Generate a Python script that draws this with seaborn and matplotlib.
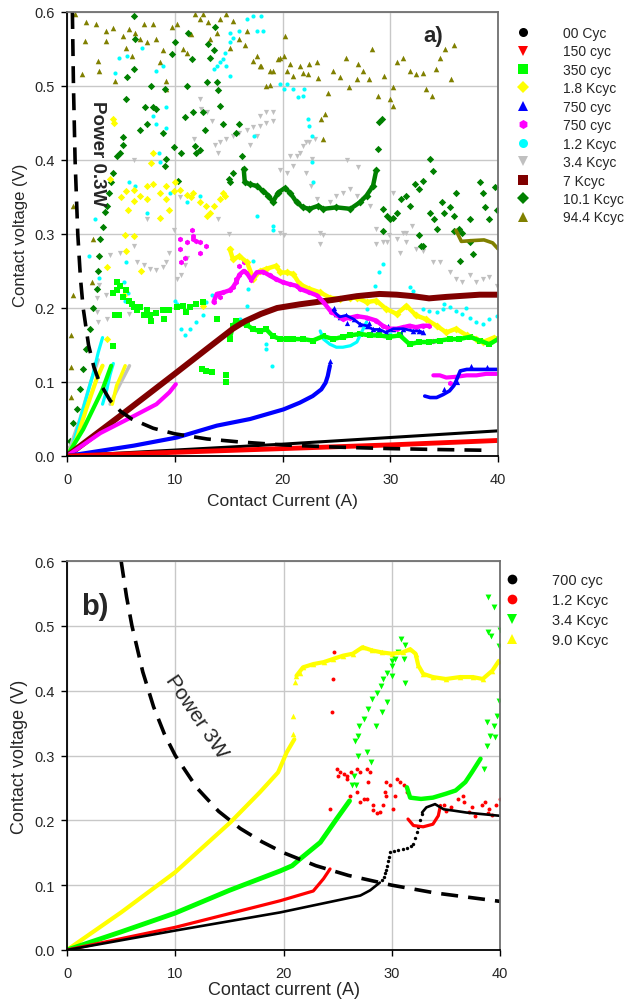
import matplotlib
matplotlib.use("Agg")
import matplotlib.pyplot as plt
import seaborn as sns
import pandas as pd
from matplotlib.lines import Line2D

# ---------------- DATA: panel a) ----------------
X_TICKS = [0, 10, 20, 30, 40]
Y_TICKS = [0.0, 0.1, 0.2, 0.3, 0.4, 0.5, 0.6]
Y_TICK_LABELS = ["0.0", "0.1", "0.2", "0.3", "0.4", "0.5", "0.6"]

A_LABELS = ["00 Cyc", "150 cyc", "350 cyc", "1.8 Kcyc", "750 cyc", "750 cyc",
            "1.2 Kcyc", "3.4 Kcyc", "7 Kcyc", "10.1 Kcyc", "94.4 Kcyc"]

A_BLACK_LINE = [(0, 0), (10, 0.008), (20, 0.016), (30, 0.025), (40, 0.034)]
A_RED_LINE = [(0, 0), (10, 0.005), (20, 0.010), (30, 0.015), (40, 0.021)]
A_BROWN_LINE = [(0, 0), (5, 0.055), (10, 0.111), (13, 0.145), (15.4, 0.172), (16.5, 0.182),
                (18, 0.192), (19.5, 0.2), (21.6, 0.205), (24.7, 0.211), (26.9, 0.216),
                (29, 0.219), (30.6, 0.218), (32.1, 0.216), (33.6, 0.213), (35.2, 0.215),
                (38.3, 0.218), (40, 0.218)]

A_BLUE_CURVE = [(0, 0), (6.2, 0.014), (10.2, 0.025), (13.9, 0.041), (17.0, 0.05), (20.1, 0.063),
                (21.6, 0.072), (22.8, 0.081), (23.6, 0.09), (24.0, 0.099), (24.2, 0.108), (24.4, 0.122)]
A_BLUE_UPPER = [(24.7, 0.197), (25.0, 0.192), (25.3, 0.188), (25.9, 0.19), (26.6, 0.185), (27.2, 0.178),
                (27.8, 0.176), (28.4, 0.171), (29.0, 0.171), (29.6, 0.167), (30.3, 0.172), (31.2, 0.172),
                (32.1, 0.169), (32.7, 0.169), (33.0, 0.167)]
A_BLUE_LOWER = [(33.2, 0.081), (33.7, 0.079), (34.3, 0.079), (34.9, 0.083), (35.5, 0.088), (35.9, 0.095),
                (36.1, 0.101), (36.5, 0.115), (37.1, 0.117), (38.0, 0.117), (38.9, 0.117), (39.9, 0.117)]
A_BLUE_PTS = [(24.4, 0.128), (24.8, 0.2), (26.0, 0.18), (28.0, 0.18), (29.8, 0.176), (31.0, 0.165),
              (36.2, 0.1), (35.0, 0.09), (37.5, 0.121), (39.0, 0.12)]

A_MAG_CURVE = [(0, 0), (3.1, 0.031), (6.2, 0.054), (8.3, 0.07), (9.5, 0.086), (10.1, 0.097)]
A_MAG_PTS = [(10.5, 0.293), (11.1, 0.289), (11.7, 0.293), (12.3, 0.289), (12.9, 0.284), (12.3, 0.275),
             (10.95, 0.267), (10.6, 0.262), (11.6, 0.306), (11.7, 0.297), (12.0, 0.29), (10.5, 0.28),
             (15.7, 0.239), (16.0, 0.257), (16.4, 0.262), (14.2, 0.215), (34.0, 0.156), (35.5, 0.099)]
A_MAG_BAND = [(13.6, 0.208), (13.9, 0.219), (14.5, 0.221), (15.1, 0.224), (15.4, 0.228), (15.7, 0.235),
              (16.0, 0.245), (16.4, 0.25), (16.7, 0.247), (17.1, 0.238), (17.6, 0.248), (18.2, 0.249),
              (18.8, 0.244), (19.4, 0.239), (20.0, 0.235), (20.7, 0.232), (21.3, 0.23), (21.6, 0.226),
              (22.5, 0.221), (23.2, 0.217), (23.8, 0.208), (24.5, 0.195), (25.6, 0.185), (26.3, 0.187),
              (26.9, 0.189), (27.8, 0.187), (28.7, 0.183), (29.3, 0.176), (29.9, 0.172), (30.6, 0.172),
              (31.2, 0.174), (31.8, 0.176), (32.4, 0.174), (33.0, 0.176), (33.6, 0.176)]
A_MAG_LOWER = [(34.0, 0.109), (34.6, 0.109), (35.2, 0.106), (36.1, 0.107), (37.1, 0.109),
               (38.0, 0.109), (38.9, 0.111), (39.9, 0.111)]

A_GREEN_CURVE = [(0, 0), (1.5, 0.036), (2.4, 0.063), (3.3, 0.09), (4.1, 0.122)]
A_GREEN_PTS = [(4.3, 0.149), (4.5, 0.19), (4.3, 0.22), (4.6, 0.225), (4.9, 0.23), (4.6, 0.235),
               (5.5, 0.224), (5.8, 0.21), (6.2, 0.201), (6.5, 0.197), (6.8, 0.201), (7.4, 0.197),
               (7.7, 0.19), (8.3, 0.193), (8.9, 0.197), (9.5, 0.197), (10.2, 0.201), (10.8, 0.203),
               (11.4, 0.201), (12.0, 0.205), (12.6, 0.208), (7.8, 0.182), (7.1, 0.19), (4.8, 0.19),
               (12.5, 0.118), (12.9, 0.115), (13.5, 0.113), (14.8, 0.109), (14.8, 0.1), (13.9, 0.185),
               (5.2, 0.215), (9.0, 0.185), (11.0, 0.195), (6.0, 0.205)]
A_GREEN_BAND = [(15.1, 0.158), (15.4, 0.176), (15.7, 0.182), (16.0, 0.18), (16.7, 0.177), (17.3, 0.171),
                (17.9, 0.169), (18.5, 0.171), (19.1, 0.162), (19.8, 0.158), (20.4, 0.158), (21.0, 0.158),
                (21.9, 0.158), (22.8, 0.156), (23.8, 0.162), (24.7, 0.158), (25.6, 0.161), (26.3, 0.163),
                (27.2, 0.165), (28.1, 0.163), (29.0, 0.163), (29.9, 0.161), (30.9, 0.163), (31.8, 0.151),
                (32.7, 0.154), (33.6, 0.154), (34.6, 0.156), (35.5, 0.158), (36.4, 0.158), (37.4, 0.161),
                (38.3, 0.156), (39.2, 0.151), (40.0, 0.158)]

A_YEL_CURVE = [(0, 0), (0.9, 0.023), (1.8, 0.064), (2.75, 0.104), (3.3, 0.122)]
A_YEL_CURVE2 = [(4.2, 0.07), (4.6, 0.095), (5.0, 0.108), (5.4, 0.122)]
A_YEL_PTS = [(5.4, 0.298), (5.5, 0.277), (3.7, 0.255), (3.7, 0.158), (5.3, 0.218), (6.9, 0.25),
             (12.6, 0.203), (4.3, 0.455), (4.4, 0.45), (8.0, 0.41), (7.8, 0.396), (4.0, 0.374),
             (5.5, 0.358), (6.2, 0.36), (6.8, 0.351), (7.4, 0.365), (8.0, 0.367), (8.6, 0.356),
             (9.2, 0.365), (9.9, 0.358), (10.5, 0.36), (11.1, 0.353), (11.7, 0.356), (12.3, 0.343),
             (12.9, 0.338), (13.3, 0.329), (13.6, 0.338), (14.2, 0.347), (14.7, 0.351), (6.2, 0.345),
             (7.4, 0.347), (9.2, 0.347), (9.5, 0.333), (5.7, 0.333), (8.6, 0.322), (6.2, 0.297),
             (11.5, 0.35), (5.0, 0.35), (10.0, 0.37), (13.0, 0.325), (14.5, 0.355)]
A_YEL_BAND = [(15.1, 0.28), (15.4, 0.266), (16.0, 0.27), (16.7, 0.262), (17.3, 0.239), (17.9, 0.25),
              (18.5, 0.253), (19.4, 0.257), (19.8, 0.248), (20.4, 0.248), (21.0, 0.246), (21.6, 0.232),
              (22.5, 0.226), (23.5, 0.221), (24.4, 0.214), (25.3, 0.212), (26.3, 0.214), (26.9, 0.214),
              (27.8, 0.208), (28.7, 0.21), (29.6, 0.199), (30.6, 0.192), (31.5, 0.203), (32.4, 0.19),
              (33.3, 0.185), (34.3, 0.176), (35.2, 0.167), (36.1, 0.172), (37.1, 0.163), (38.0, 0.158),
              (38.6, 0.154), (39.6, 0.16), (40.0, 0.158)]

A_CYAN_CURVE = [(0, 0), (0.6, 0.018), (1.5, 0.064), (2.4, 0.11), (2.9, 0.14), (3.3, 0.16)]
A_CYAN_CURVE2 = [(3.3, 0.07), (3.7, 0.09), (4.0, 0.11), (4.3, 0.125)]
A_CYAN_U = [(23.5, 0.169), (23.8, 0.158), (24.4, 0.151), (25.0, 0.147), (25.6, 0.147), (26.3, 0.149),
            (26.9, 0.154), (27.2, 0.163), (27.8, 0.181)]
A_CYAN_PTS = [(5.5, 0.262), (5.3, 0.235), (5.4, 0.21), (5.7, 0.22), (10.0, 0.21), (10.2, 0.205),
              (10.6, 0.172), (10.95, 0.163), (11.4, 0.172), (12.0, 0.181), (12.6, 0.19), (12.9, 0.208),
              (13.5, 0.217), (16.7, 0.203), (16.8, 0.226), (16.1, 0.185), (18.5, 0.151), (18.5, 0.145),
              (19.1, 0.311), (4.5, 0.518), (4.8, 0.538), (5.6, 0.54), (7.0, 0.552), (8.3, 0.52),
              (8.9, 0.527), (9.2, 0.471), (9.2, 0.443), (8.3, 0.449), (8.0, 0.46), (8.5, 0.41),
              (8.6, 0.397), (5.8, 0.37), (6.3, 0.365), (2.6, 0.32), (7.4, 0.329), (9.6, 0.356),
              (11.1, 0.343), (12.3, 0.352), (13.6, 0.523), (13.9, 0.527), (14.2, 0.532), (14.5, 0.536),
              (14.7, 0.545), (15.1, 0.572), (15.1, 0.559), (15.4, 0.565), (16.0, 0.575), (16.7, 0.59),
              (17.3, 0.595), (17.6, 0.575), (15.1, 0.514), (14.8, 0.527), (17.4, 0.432), (17.6, 0.324),
              (19.1, 0.306), (18.2, 0.575), (18.0, 0.595), (19.8, 0.503), (20.1, 0.496), (21.0, 0.496),
              (21.4, 0.485), (21.9, 0.487), (22.0, 0.496), (22.4, 0.455), (22.5, 0.446), (22.7, 0.432),
              (22.8, 0.37), (22.7, 0.397), (20.4, 0.503), (27.8, 0.199), (28.1, 0.217), (28.6, 0.23),
              (29.0, 0.248), (29.3, 0.259), (31.8, 0.228), (32.1, 0.223), (33.0, 0.199), (33.6, 0.196),
              (34.3, 0.194), (34.9, 0.199), (35.5, 0.201), (36.1, 0.196), (36.7, 0.192), (37.4, 0.187),
              (38.0, 0.181), (38.6, 0.178), (39.2, 0.185), (39.9, 0.189), (30.0, 0.165), (17.3, 0.264),
              (19.0, 0.122), (2.0, 0.27), (3.0, 0.24), (35.0, 0.205), (37.0, 0.2)]

A_GRAY_CURVE = [(0, 0), (1.2, 0.05), (2.2, 0.1), (2.9, 0.13)]
A_GRAY_CURVE2 = [(4.0, 0.07), (4.6, 0.088), (5.2, 0.105), (5.8, 0.122)]
A_GRAY_PTS = [(2.75, 0.194), (2.9, 0.181), (2.75, 0.213), (3.7, 0.185), (3.6, 0.217), (3.0, 0.231),
              (5.8, 0.192), (4.0, 0.271), (4.9, 0.275), (6.2, 0.284), (6.5, 0.262), (7.1, 0.258),
              (7.7, 0.253), (8.3, 0.251), (8.9, 0.255), (9.2, 0.262), (9.5, 0.275), (10.2, 0.239),
              (10.6, 0.244), (10.95, 0.258), (11.1, 0.267), (12.3, 0.482), (12.4, 0.469), (11.8, 0.428),
              (13.0, 0.465), (13.5, 0.453), (13.7, 0.42), (14.2, 0.424), (14.8, 0.428), (15.4, 0.432),
              (16.0, 0.437), (16.7, 0.441), (17.3, 0.444), (17.9, 0.446), (18.5, 0.45), (19.1, 0.465),
              (14.0, 0.41), (9.9, 0.306), (7.4, 0.32), (6.2, 0.4), (20.7, 0.406), (21.0, 0.392),
              (21.6, 0.41), (22.2, 0.424), (22.7, 0.401), (19.8, 0.302), (14.0, 0.32), (17.9, 0.46),
              (18.5, 0.465), (19.1, 0.453), (17.6, 0.433), (17.0, 0.42), (21.9, 0.419), (22.5, 0.424),
              (23.0, 0.428), (20.4, 0.383), (21.3, 0.405), (22.2, 0.383), (22.6, 0.365), (23.2, 0.347),
              (23.8, 0.334), (24.4, 0.343), (25.0, 0.352), (25.6, 0.356), (26.3, 0.361), (26.9, 0.352),
              (27.5, 0.347), (28.1, 0.338), (28.7, 0.307), (29.7, 0.289), (30.6, 0.293), (31.2, 0.302),
              (32.0, 0.311), (19.8, 0.386), (20.1, 0.298), (23.8, 0.298), (30.3, 0.356), (28.7, 0.286),
              (29.3, 0.289), (29.9, 0.298), (30.9, 0.275), (31.5, 0.289), (32.4, 0.28), (33.0, 0.277),
              (34.0, 0.262), (34.6, 0.262), (35.5, 0.248), (36.1, 0.239), (36.7, 0.235), (37.4, 0.244),
              (38.0, 0.235), (38.6, 0.239), (39.2, 0.242), (39.9, 0.23), (31.5, 0.302), (23.5, 0.286),
              (23.5, 0.302), (10.5, 0.35), (15.0, 0.3), (27.0, 0.39), (26.0, 0.4)]

A_DGREEN_RISE = [(0, 0), (0.3, 0.02), (0.6, 0.045), (0.9, 0.064), (1.2, 0.09), (1.5, 0.118),
                 (1.8, 0.145), (2.1, 0.172), (2.4, 0.2), (2.75, 0.226), (2.9, 0.25), (3.0, 0.27),
                 (3.1, 0.293), (3.3, 0.31), (3.5, 0.33), (3.7, 0.338), (3.9, 0.355), (4.1, 0.37),
                 (4.3, 0.383), (4.6, 0.405), (4.9, 0.41), (5.2, 0.42)]
A_DGREEN_BAND = [(16.4, 0.388), (16.5, 0.37), (17.0, 0.367), (17.6, 0.365), (18.2, 0.358), (18.7, 0.352),
                 (19.1, 0.343), (19.6, 0.356), (20.2, 0.362), (20.7, 0.356), (21.3, 0.343), (21.9, 0.336),
                 (22.5, 0.334), (23.3, 0.338), (23.8, 0.334), (25.0, 0.336), (26.3, 0.334), (27.2, 0.343),
                 (27.8, 0.352), (28.4, 0.365), (28.7, 0.386)]
A_DGREEN_PTS = [(5.5, 0.482), (5.6, 0.512), (5.2, 0.431), (6.2, 0.523), (6.2, 0.595), (6.3, 0.563),
                (7.4, 0.449), (7.2, 0.471), (8.0, 0.471), (8.3, 0.469), (9.1, 0.496), (8.9, 0.437),
                (9.2, 0.401), (9.1, 0.392), (9.9, 0.417), (9.7, 0.543), (10.3, 0.372), (10.6, 0.409),
                (10.95, 0.458), (11.1, 0.5), (11.2, 0.572), (11.6, 0.536), (11.7, 0.465), (11.9, 0.419),
                (12.0, 0.41), (12.3, 0.414), (12.6, 0.465), (13.0, 0.505), (13.1, 0.557), (13.3, 0.538),
                (13.6, 0.548), (13.7, 0.58), (13.9, 0.505), (14.0, 0.494), (14.2, 0.473), (14.5, 0.449),
                (15.0, 0.374), (15.1, 0.37), (15.4, 0.383), (15.7, 0.437), (16.0, 0.449), (16.2, 0.405),
                (28.9, 0.415), (29.0, 0.451), (29.2, 0.455), (29.3, 0.334), (29.7, 0.325), (30.0, 0.32),
                (30.3, 0.322), (30.6, 0.329), (31.0, 0.347), (31.5, 0.352), (31.8, 0.338), (32.3, 0.367),
                (32.7, 0.361), (33.0, 0.372), (33.7, 0.401), (34.0, 0.385), (33.7, 0.329), (34.1, 0.32),
                (34.3, 0.307), (34.8, 0.343), (35.0, 0.329), (35.5, 0.336), (35.9, 0.325), (36.1, 0.356),
                (36.4, 0.307), (36.7, 0.302), (37.4, 0.32), (38.3, 0.37), (38.6, 0.356), (38.8, 0.336),
                (39.2, 0.32), (39.7, 0.363), (39.9, 0.332), (32.9, 0.284), (29.3, 0.304), (32.7, 0.298),
                (33.0, 0.284), (35.9, 0.304), (36.5, 0.264), (37.7, 0.273), (37.4, 0.289), (6.8, 0.44),
                (7.8, 0.5), (10.0, 0.56), (12.8, 0.44)]

A_OLIVE_PTS = [(0.74, 0.597), (1.36, 0.516), (1.8, 0.586), (1.7, 0.561), (2.9, 0.534), (3.0, 0.52),
               (2.7, 0.584), (3.6, 0.575), (3.6, 0.561), (4.45, 0.507), (4.3, 0.579), (5.2, 0.568),
               (5.5, 0.552), (5.8, 0.577), (6.3, 0.572), (6.8, 0.563), (7.1, 0.584), (7.4, 0.559),
               (8.0, 0.584), (8.3, 0.563), (8.9, 0.548), (9.2, 0.507), (9.2, 0.496), (8.6, 0.532),
               (9.7, 0.58), (10.2, 0.584), (10.8, 0.55), (11.1, 0.545), (11.9, 0.597), (12.3, 0.59),
               (12.6, 0.597), (13.1, 0.586), (13.3, 0.563), (13.9, 0.572), (14.2, 0.59), (14.8, 0.597),
               (15.1, 0.552), (15.4, 0.588), (16.0, 0.563), (16.7, 0.575), (17.3, 0.534), (17.9, 0.527),
               (18.5, 0.5), (18.8, 0.502), (19.1, 0.52), (19.6, 0.536), (20.1, 0.541), (20.4, 0.52),
               (21.0, 0.514), (21.6, 0.527), (21.9, 0.518), (22.5, 0.53), (23.3, 0.511), (17.6, 0.541),
               (18.0, 0.527), (18.8, 0.52), (19.8, 0.538), (20.2, 0.567), (20.7, 0.53), (22.4, 0.516),
               (23.2, 0.532), (23.6, 0.455), (23.9, 0.462), (23.8, 0.428), (24.2, 0.491), (24.7, 0.52),
               (25.3, 0.512), (25.9, 0.538), (26.2, 0.498), (26.9, 0.509), (27.5, 0.52), (28.0, 0.509),
               (28.3, 0.55), (28.9, 0.487), (29.4, 0.514), (30.0, 0.482), (30.3, 0.473), (30.3, 0.498),
               (30.6, 0.532), (31.2, 0.538), (31.8, 0.52), (32.4, 0.516), (33.0, 0.518), (33.3, 0.496),
               (33.9, 0.487), (34.2, 0.523), (34.6, 0.538), (35.1, 0.55), (35.6, 0.509), (35.9, 0.555),
               (2.4, 0.293), (0.6, 0.338), (0.6, 0.217), (0.4, 0.163), (0.4, 0.12), (0.4, 0.08),
               (0.3, 0.015), (2.3, 0.235), (6.0, 0.54), (11.5, 0.57), (16.5, 0.555), (27.0, 0.53)]
A_OLIVE_LINE = [(36.1, 0.305), (36.6, 0.29), (37.5, 0.291), (38.7, 0.292), (39.5, 0.288), (40.0, 0.28)]

A_POWER_LINE = [(0.5, 0.6), (0.6, 0.5), (0.75, 0.4), (1.0, 0.3), (1.25, 0.24), (1.5, 0.2), (2.0, 0.15),
                (2.5, 0.12), (3.0, 0.1), (4.0, 0.075), (5.0, 0.06), (6.0, 0.05), (8.0, 0.0375),
                (10.0, 0.03), (13.0, 0.023), (16.0, 0.019), (20.0, 0.015), (25.0, 0.012), (30.0, 0.01),
                (35.0, 0.0086), (39.0, 0.0077)]

# ---------------- DATA: panel b) ----------------
B_LABELS = ["700 cyc", "1.2 Kcyc", "3.4 Kcyc", "9.0 Kcyc"]

B_BLACK_LINE1 = [(0, 0), (10, 0.03), (19.7, 0.058), (23.4, 0.071), (27.1, 0.084), (28.0, 0.092),
                 (28.9, 0.104)]
B_BLACK_PTS = [(29.1, 0.108), (29.3, 0.113), (29.4, 0.118), (29.5, 0.124), (29.6, 0.13), (29.65, 0.137),
               (29.7, 0.144), (29.8, 0.151), (30.2, 0.153), (30.6, 0.155), (31.0, 0.156), (31.4, 0.157),
               (31.8, 0.16), (32.0, 0.163), (32.15, 0.172), (32.3, 0.182), (32.45, 0.19), (32.6, 0.2),
               (32.8, 0.21)]
B_BLACK_LINE2 = [(32.8, 0.212), (33.2, 0.22), (34.0, 0.225), (34.8, 0.217), (35.7, 0.215), (36.9, 0.212),
                 (38.1, 0.21), (40.0, 0.207)]

B_RED_LINE1 = [(0, 0), (10, 0.035), (19.7, 0.076), (22.75, 0.091), (23.7, 0.11), (24.3, 0.125)]
B_RED_LINE2 = [(31.5, 0.202), (32.0, 0.192), (32.9, 0.19), (33.8, 0.194), (34.3, 0.207), (34.5, 0.223)]
B_RED_PTS = [(24.3, 0.217), (24.45, 0.367), (24.6, 0.418), (24.7, 0.46), (24.9, 0.279), (25.2, 0.274),
             (25.6, 0.271), (25.9, 0.269), (26.2, 0.274), (25.0, 0.269), (25.9, 0.264), (26.8, 0.279),
             (27.1, 0.274), (27.7, 0.279), (28.0, 0.274), (27.8, 0.259), (26.1, 0.238), (26.8, 0.243),
             (27.1, 0.228), (27.4, 0.233), (27.7, 0.233), (28.3, 0.223), (28.3, 0.216), (28.6, 0.211),
             (28.9, 0.213), (29.2, 0.223), (29.5, 0.238), (29.5, 0.259), (29.8, 0.254), (29.4, 0.243),
             (30.1, 0.218), (30.5, 0.264), (30.8, 0.259), (31.1, 0.254), (31.4, 0.243), (30.3, 0.238),
             (34.8, 0.223), (35.5, 0.221), (36.1, 0.233), (36.7, 0.228), (36.6, 0.238), (37.1, 0.213),
             (37.7, 0.206), (38.3, 0.223), (39.0, 0.218), (39.6, 0.223), (40.0, 0.233), (39.3, 0.208),
             (38.6, 0.228), (35.0, 0.215), (37.4, 0.22), (38.9, 0.212)]

B_GREEN_LINE1 = [(0, 0), (5, 0.028), (10, 0.057), (15, 0.092), (19.7, 0.122), (20.8, 0.13), (21.5, 0.14),
                 (23.4, 0.166), (24.9, 0.202), (26.1, 0.23)]
B_GREEN_LINE2 = [(31.4, 0.251), (31.7, 0.235), (32.7, 0.233), (33.8, 0.235), (35.0, 0.241), (35.9, 0.246),
                 (36.8, 0.259), (37.4, 0.274), (38.2, 0.295)]
B_GREEN_PTS = [(26.3, 0.254), (26.6, 0.323), (26.9, 0.33), (27.0, 0.346), (27.4, 0.356), (27.8, 0.372),
               (28.2, 0.387), (28.6, 0.397), (29.0, 0.407), (29.2, 0.418), (29.6, 0.428), (30.0, 0.438),
               (30.3, 0.449), (30.6, 0.459), (30.9, 0.48), (31.1, 0.449), (27.7, 0.305), (28.1, 0.29),
               (26.9, 0.3), (28.5, 0.346), (29.1, 0.367), (29.6, 0.382), (30.0, 0.423), (31.2, 0.412),
               (26.7, 0.254), (26.5, 0.269), (38.5, 0.279), (38.8, 0.315), (39.1, 0.33), (39.4, 0.346),
               (39.7, 0.361), (39.9, 0.384), (38.8, 0.351), (39.5, 0.328), (38.9, 0.544), (39.4, 0.529),
               (38.9, 0.491), (39.2, 0.485), (40.0, 0.493), (39.9, 0.469), (31.2, 0.47), (30.0, 0.445)]

B_YEL_LINE1 = [(0, 0), (5, 0.058), (10, 0.12), (15.1, 0.197), (17.8, 0.243), (19.5, 0.274), (20.3, 0.305),
               (21.0, 0.325)]
B_YEL_PTS = [(20.9, 0.333), (20.9, 0.361), (21.1, 0.413), (21.5, 0.428)]
B_YEL_LINE2 = [(21.2, 0.423), (21.8, 0.436), (22.75, 0.441), (23.7, 0.444), (24.6, 0.449), (25.5, 0.454),
               (26.4, 0.457), (27.3, 0.467), (28.2, 0.462), (29.1, 0.459), (30.0, 0.457), (31.0, 0.459),
               (31.7, 0.464), (32.2, 0.457), (32.45, 0.439), (32.9, 0.426), (33.8, 0.421), (35.0, 0.418),
               (36.3, 0.421), (37.5, 0.421), (38.4, 0.418), (39.3, 0.431), (39.9, 0.446)]

B_POWER_LINE = [(5, 0.6), (5.5, 0.545), (6, 0.5), (7, 0.429), (8, 0.375), (9, 0.333), (10, 0.3),
                (12, 0.25), (14, 0.214), (16, 0.1875), (18, 0.167), (20, 0.15), (23, 0.13), (26, 0.115),
                (30, 0.1), (34, 0.088), (40, 0.075)]

# ---------------- STYLE ----------------
sns.set_theme(style="white")
plt.rcParams['font.family'] = ['Liberation Sans', 'DejaVu Sans']

C_BLACK, C_RED, C_GREEN, C_YEL = "#000000", "#ff0000", "#00ff00", "#ffff00"
C_BLUE, C_MAG, C_CYAN, C_GRAY = "#0000ff", "#ff00ff", "#00ffff", "#c0c0c0"
C_BROWN, C_DGREEN, C_OLIVE = "#800000", "#008000", "#808000"


def to_df(p):
    return pd.DataFrame(p, columns=["x", "y"])


def draw_line(ax, p, color, lw, **kw):
    sns.lineplot(data=to_df(p), x="x", y="y", ax=ax, color=color, linewidth=lw,
                 sort=False, estimator=None, legend=False, **kw)


def draw_pts(ax, p, color, marker, s):
    sns.scatterplot(data=to_df(p), x="x", y="y", ax=ax, color=color, marker=marker,
                    s=s, linewidth=0, legend=False)


def style_axes(ax, xlabel, xl_size, xl_pad, yl_size, yl_pad):
    ax.set_xlim(0, 40)
    ax.set_ylim(0, 0.6)
    ax.set_xticks(X_TICKS)
    ax.set_xticklabels([str(t) for t in X_TICKS])
    ax.set_yticks(Y_TICKS)
    ax.set_yticklabels(Y_TICK_LABELS)
    ax.grid(True, color="#c8c8c8", linewidth=1.0)
    ax.set_axisbelow(True)
    for side in ["left", "bottom"]:
        ax.spines[side].set_color("black")
        ax.spines[side].set_linewidth(1.3)
    for side in ["top", "right"]:
        ax.spines[side].set_color("#707070")
        ax.spines[side].set_linewidth(1.3)
    ax.tick_params(axis="both", direction="out", length=4, width=1, color="black",
                   labelsize=10.5, left=True, bottom=True)
    ax.tick_params(axis="x", pad=7.5)
    ax.tick_params(axis="y", pad=5)
    ax.set_xlabel(xlabel, fontsize=xl_size, labelpad=xl_pad)
    ax.set_ylabel("Contact voltage (V)", fontsize=yl_size, labelpad=yl_pad)


fig = plt.figure(figsize=(6.31, 10.03), dpi=100)
axA = fig.add_axes([67 / 631, 1 - 457 / 1003, 431 / 631, 444 / 1003])
axB = fig.add_axes([67 / 631, 1 - 951 / 1003, 433 / 631, 389 / 1003])

# ---------------- panel a ----------------
dash = (0, (4.7, 2.8))
draw_pts(axA, A_OLIVE_PTS, C_OLIVE, "^", 16)
draw_line(axA, A_OLIVE_LINE, C_OLIVE, 2.6)
draw_pts(axA, A_GRAY_PTS, C_GRAY, "v", 14)
draw_line(axA, A_GRAY_CURVE, C_GRAY, 2.5)
draw_line(axA, A_GRAY_CURVE2, C_GRAY, 2.5)
draw_pts(axA, A_DGREEN_PTS, C_DGREEN, "D", 14)
draw_pts(axA, A_DGREEN_RISE, C_DGREEN, "D", 14)
draw_line(axA, A_DGREEN_BAND, C_DGREEN, 3.2)
draw_pts(axA, A_DGREEN_BAND, C_DGREEN, "D", 16)
draw_pts(axA, A_CYAN_PTS, C_CYAN, "o", 9)
draw_line(axA, A_CYAN_CURVE, C_CYAN, 2.3)
draw_line(axA, A_CYAN_CURVE2, C_CYAN, 2.3)
draw_line(axA, A_CYAN_U, C_CYAN, 2.3)
draw_pts(axA, A_YEL_PTS, C_YEL, "D", 14)
draw_line(axA, A_YEL_CURVE, C_YEL, 3)
draw_line(axA, A_YEL_CURVE2, C_YEL, 2.5)
draw_line(axA, A_YEL_BAND, C_YEL, 3.2)
draw_pts(axA, A_YEL_BAND, C_YEL, "D", 16)
draw_pts(axA, A_GREEN_PTS, C_GREEN, "s", 14)
draw_line(axA, A_GREEN_CURVE, C_GREEN, 3)
draw_line(axA, A_GREEN_BAND, C_GREEN, 3.2)
draw_pts(axA, A_GREEN_BAND, C_GREEN, "s", 14)
draw_line(axA, A_BROWN_LINE, C_BROWN, 4.3)
draw_pts(axA, A_MAG_PTS, C_MAG, "h", 16)
draw_line(axA, A_MAG_CURVE, C_MAG, 3)
draw_line(axA, A_MAG_BAND, C_MAG, 3.2)
draw_pts(axA, A_MAG_BAND, C_MAG, "h", 16)
draw_line(axA, A_MAG_LOWER, C_MAG, 3)
draw_line(axA, A_BLUE_CURVE, C_BLUE, 3)
draw_line(axA, A_BLUE_UPPER, C_BLUE, 2)
draw_pts(axA, A_BLUE_UPPER, C_BLUE, "^", 16)
draw_pts(axA, A_BLUE_PTS, C_BLUE, "^", 14)
draw_line(axA, A_BLUE_LOWER, C_BLUE, 2.6)
draw_line(axA, A_BLACK_LINE, C_BLACK, 2.2)
draw_line(axA, A_RED_LINE, C_RED, 3.5)
draw_line(axA, A_POWER_LINE, C_BLACK, 2.6, linestyle=dash)

style_axes(axA, "Contact Current (A)", 12.5, 5, 12, 4.5)
axA.text(2.8, 0.41, "Power 0.3W", rotation=-90, fontsize=13.5, fontweight="bold",
         ha="center", va="center")
axA.text(34.0, 0.568, "a)", fontsize=16, fontweight="bold", ha="center", va="center")

a_markers = ["o", "v", "s", "D", "^", "h", "o", "v", "s", "D", "^"]
a_colors = [C_BLACK, C_RED, C_GREEN, C_YEL, C_BLUE, C_MAG, C_CYAN, C_GRAY, C_BROWN, C_DGREEN, C_OLIVE]
a_handles = [Line2D([], [], linestyle="none", marker=m, color=c, markersize=6.5, markeredgewidth=0)
             for m, c in zip(a_markers, a_colors)]
fig.legend(a_handles, A_LABELS, loc="upper left", bbox_to_anchor=(516 / 631, 1 - 27 / 1003),
           bbox_transform=fig.transFigure, frameon=False, fontsize=10, handlelength=1.0,
           handletextpad=2.4, labelspacing=0.32, borderpad=0, borderaxespad=0)

# ---------------- panel b ----------------
draw_line(axB, B_YEL_LINE1, C_YEL, 3)
draw_pts(axB, B_YEL_PTS, C_YEL, "^", 16)
draw_line(axB, B_YEL_LINE2, C_YEL, 3)
draw_pts(axB, B_YEL_LINE2, C_YEL, "^", 16)
draw_pts(axB, B_GREEN_PTS, C_GREEN, "v", 18)
draw_line(axB, B_GREEN_LINE1, C_GREEN, 3.5)
draw_line(axB, B_GREEN_LINE2, C_GREEN, 3.2)
draw_pts(axB, B_RED_PTS, C_RED, "o", 8)
draw_line(axB, B_RED_LINE1, C_RED, 2.3)
draw_line(axB, B_RED_LINE2, C_RED, 2.3)
draw_line(axB, B_BLACK_LINE1, C_BLACK, 1.9)
draw_pts(axB, B_BLACK_PTS, C_BLACK, "o", 6)
draw_line(axB, B_BLACK_LINE2, C_BLACK, 1.9)
draw_line(axB, B_POWER_LINE, C_BLACK, 2.6, linestyle=dash)

style_axes(axB, "Contact current (A)", 13, 1, 13, 4)
axB.text(12.0, 0.361, "Power 3W", rotation=-56, fontsize=15, ha="center", va="center",
         rotation_mode="anchor")
axB.text(2.6, 0.531, "b)", fontsize=21, fontweight="bold", ha="center", va="center")

b_markers = ["o", "o", "v", "^"]
b_colors = [C_BLACK, C_RED, C_GREEN, C_YEL]
b_handles = [Line2D([], [], linestyle="none", marker=m, color=c, markersize=7, markeredgewidth=0)
             for m, c in zip(b_markers, b_colors)]
fig.legend(b_handles, B_LABELS, loc="upper left", bbox_to_anchor=(505 / 631, 1 - 574 / 1003),
           bbox_transform=fig.transFigure, frameon=False, fontsize=10.5, handlelength=1.0,
           handletextpad=2.2, labelspacing=0.41, borderpad=0, borderaxespad=0)

fig.savefig("out.png", dpi=100)
